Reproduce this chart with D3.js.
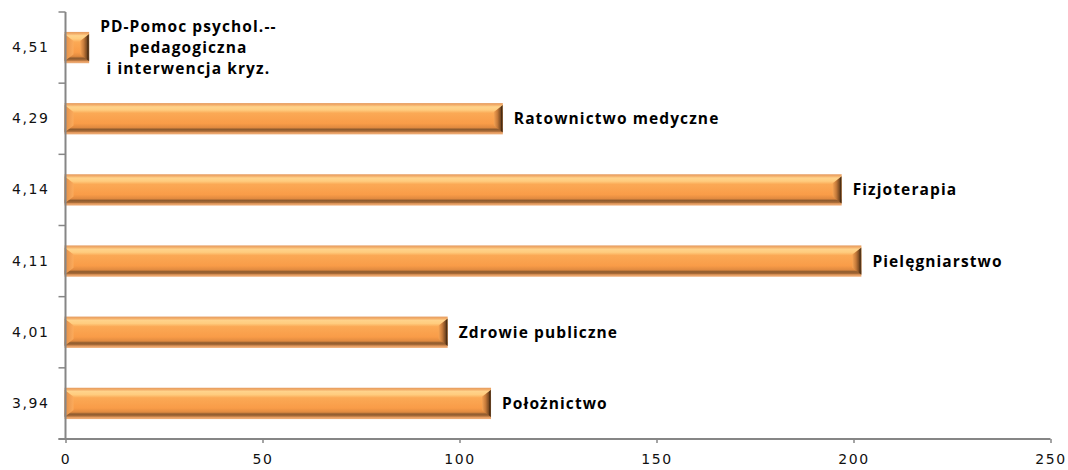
<!DOCTYPE html>
<html lang="pl">
<head>
<meta charset="utf-8">
<title>Kierunki</title>
<script src="https://cdn.jsdelivr.net/npm/d3@7"></script>
<style>
  body { margin: 0; background: #fff; }
  .tick text { font-family: "DejaVu Sans", Verdana, sans-serif; font-size: 14px; letter-spacing: 1.6px; fill: #111; }
  .lbl { font-family: "Open Sans", Lato, sans-serif; font-weight: bold; font-size: 15.5px; fill: #000; letter-spacing: 1.1px; }
</style>
</head>
<body>
<svg id="chart" width="1068" height="470"></svg>
<script>
// data, top to bottom
var categories = ["4,51", "4,29", "4,14", "4,11", "4,01", "3,94"];
var values = [6, 111, 197, 202, 97, 108];
var names = [
  ["PD-Pomoc psychol.--", "pedagogiczna", "i interwencja kryz."],
  ["Ratownictwo medyczne"],
  ["Fizjoterapia"],
  ["Pielęgniarstwo"],
  ["Zdrowie publiczne"],
  ["Położnictwo"]
];
var xTicks = [0, 50, 100, 150, 200, 250];

var svg = d3.select("#chart");
var plotLeft = 65.5, plotRight = 1050.5, plotTop = 12, plotBottom = 439;

var x = d3.scaleLinear().domain([0, 250]).range([plotLeft, plotRight]);
var y = d3.scaleBand().domain(categories).range([plotTop, plotBottom]).paddingInner(0.56).paddingOuter(0.28);

// gradients
var defs = svg.append("defs");
var gv = defs.append("linearGradient").attr("id", "gv").attr("x1", 0).attr("y1", 0).attr("x2", 0).attr("y2", 1);
[[0, "#e49a5e"], [0.06, "#f3ae6a"], [0.12, "#ffd38b"], [0.22, "#ffcc7e"], [0.32, "#fba955"],
 [0.65, "#f99c48"], [0.78, "#e08a40"], [0.84, "#8d5a2e"], [0.9, "#a86b38"], [0.94, "#e49a5e"], [1, "#efb07c"]]
  .forEach(function(s) { gv.append("stop").attr("offset", s[0]).attr("stop-color", s[1]); });
var gr = defs.append("linearGradient").attr("id", "gr").attr("x1", 0).attr("y1", 0).attr("x2", 1).attr("y2", 0);
[[0, "#f5a354"], [0.4, "#c57a3a"], [0.75, "#7a4a22"], [0.85, "#4a2c12"], [1, "#6e4a2a"]]
  .forEach(function(s) { gr.append("stop").attr("offset", s[0]).attr("stop-color", s[1]); });
var gl = defs.append("linearGradient").attr("id", "gl").attr("x1", 0).attr("y1", 0).attr("x2", 1).attr("y2", 0);
[[0, "#c98550"], [0.25, "#e8954c"], [1, "#fbab5c"]]
  .forEach(function(s) { gl.append("stop").attr("offset", s[0]).attr("stop-color", s[1]); });

// bars
var bars = svg.append("g").selectAll("g").data(values).enter().append("g");
bars.append("rect")
  .attr("x", x(0) - 1)
  .attr("y", function(d, i) { return y(categories[i]); })
  .attr("width", function(d) { return x(d) - x(0) + 1; })
  .attr("height", y.bandwidth())
  .attr("fill", "url(#gv)");
bars.append("polygon")
  .attr("fill", "url(#gl)")
  .attr("points", function(d, i) {
    var y0 = y(categories[i]), y1 = y0 + y.bandwidth(), x0 = x(0) - 1;
    var b = Math.min(9, (x(d) - x(0)) / 2);
    return [[x0, y0 + 2], [x0 + b, y0 + b], [x0 + b, y1 - b], [x0, y1 - 2]].join(" ");
  });
bars.append("polygon")
  .attr("fill", "url(#gr)")
  .attr("points", function(d, i) {
    var y0 = y(categories[i]), y1 = y0 + y.bandwidth(), x1 = x(d);
    var b = Math.min(9, (x(d) - x(0)) / 2);
    return [[x1, y0 + 2], [x1 - b, y0 + b], [x1 - b, y1 - b], [x1, y1 - 2]].join(" ");
  });

// axes
var yAxis = svg.append("g").attr("transform", "translate(" + plotLeft + ",0)")
  .call(d3.axisLeft(y).tickSize(0).tickPadding(16));
yAxis.select(".domain").remove();
var bounds = d3.range(categories.length + 1).map(function(i) { return plotTop + i * (plotBottom - plotTop) / categories.length; });
svg.append("g").selectAll("line").data(bounds).enter().append("line")
  .attr("x1", plotLeft - 7).attr("x2", plotLeft)
  .attr("y1", function(d) { return d; }).attr("y2", function(d) { return d; })
  .attr("stroke", "#868686").attr("stroke-width", 1.5);
svg.append("line").attr("x1", plotLeft).attr("x2", plotLeft).attr("y1", plotTop).attr("y2", plotBottom)
  .attr("stroke", "#868686").attr("stroke-width", 2);

var xAxis = svg.append("g").attr("transform", "translate(0," + plotBottom + ")")
  .call(d3.axisBottom(x).tickValues(xTicks).tickSize(4).tickPadding(8));
xAxis.select(".domain").attr("d", "M" + (plotLeft - 7) + ",0H" + plotRight).attr("stroke", "#868686").attr("stroke-width", 2);
xAxis.selectAll(".tick line").attr("stroke", "#868686").attr("stroke-width", 1.5);
xAxis.selectAll(".tick text").attr("dy", "0.9em");

// bar labels
bars.each(function(d, i) {
  var lines = names[i];
  var cy = y(categories[i]) + y.bandwidth() / 2;
  var t = d3.select(this).append("text").attr("class", "lbl");
  lines.forEach(function(s, k) {
    t.append("tspan").attr("y", cy + (k - (lines.length - 1) / 2) * 21).attr("dy", "0.35em").text(s);
  });
  var w = d3.max(t.selectAll("tspan").nodes(), function(n) { return n.getComputedTextLength(); });
  var cx = x(d) + 11 + w / 2;
  t.attr("text-anchor", "middle").selectAll("tspan").attr("x", cx);
});
</script>
</body>
</html>
